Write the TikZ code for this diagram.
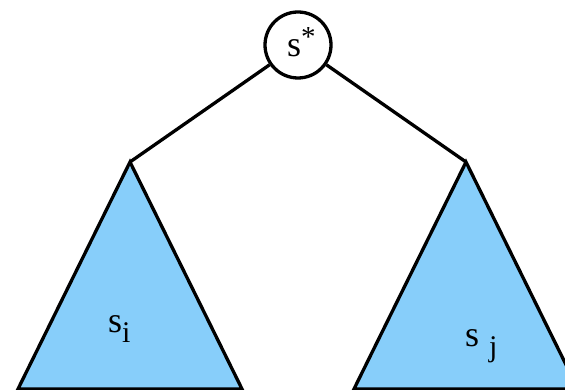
\documentclass[tikz,border=0pt]{standalone}
\usepackage{fontspec}
\setmainfont{Liberation Serif}
\usepackage{xcolor}
\usetikzlibrary{positioning,calc}
\definecolor{subtreeblue}{RGB}{135,206,250}
\tikzset{
  treeedge/.style={line width=3.3pt, draw=black},
  rootnode/.style={circle, draw, line width=3.3pt, minimum size=66pt, inner sep=0pt},
  subtree/.style={fill=subtreeblue, draw=black, line width=3.3pt, line join=miter},
  treelabel/.style={font=\fontsize{36}{40}\selectfont, inner sep=0pt, anchor=base west},
}
\newcommand{\lowsub}[1]{\raisebox{-10pt}{\fontsize{30}{32}\selectfont #1}}

\begin{document}
\begin{tikzpicture}[x=1pt, y=1pt]
  \useasboundingbox (0,0) rectangle (565,390);
  \clip (0,0) rectangle (565,390);
  % root and apexes of the two subtrees
  \node[rootnode] (root) at (298,345) {};
  \node[treelabel] (rootlbl) at (287,333) {s\raisebox{10pt}{\fontsize{29}{30}\selectfont *}};
  \coordinate (lapex) at (130,228);
  \coordinate (rapex) at (466,228);
  % subtrees
  \draw[subtree] (lapex) -- (18,1) -- (242,1) -- cycle;
  \draw[subtree] (rapex) -- (354,1) -- (578,1) -- cycle;
  \draw[treeedge] (root) -- (lapex);
  \draw[treeedge] (root) -- (rapex);
  \node[treelabel] (si) at (108,57) {s\lowsub{i}};
  \node[treelabel] (sj) at (465,43) {s\hspace{10pt}\lowsub{j}};
\end{tikzpicture}
\end{document}
